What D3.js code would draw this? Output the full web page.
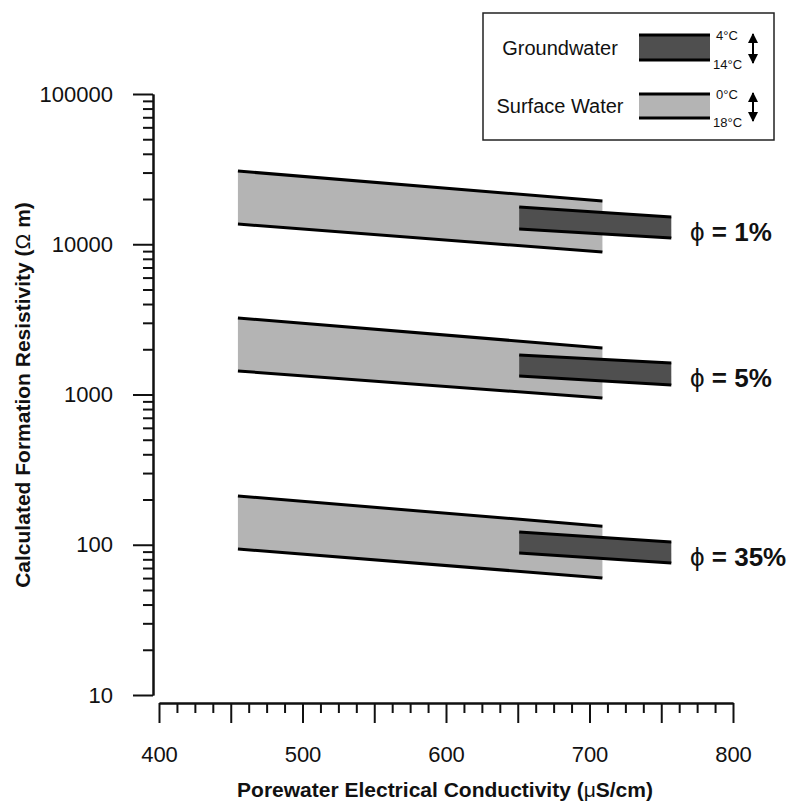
<!DOCTYPE html>
<html>
<head>
<meta charset="utf-8">
<script src="https://cdn.jsdelivr.net/npm/d3@7"></script>
<style>
  body { margin: 0; background: #fff; }
  svg { font-family: "Liberation Sans", Arial, sans-serif; }
  .axis path, .axis line { stroke: #111; stroke-width: 2; }
  .axis text { font-size: 22px; fill: #111; }
  .title { font-size: 21px; font-weight: bold; fill: #111; }
</style>
</head>
<body>
<svg width="792" height="803"></svg>
<script>
// porosity cases, one band pair each
var porosity = ['1%', '5%', '35%'];

// conductivity range of each water type (uS/cm)
var surfaceEC = [455, 709];
var groundEC = [651, 757];

// resistivity (ohm m) at the left / right end of each line
var surfaceTop = [[30700, 19400], [3230, 2040], [211, 133]];     // 0 C
var surfaceBottom = [[13640, 8880], [1434, 948], [93.7, 60.1]];  // 18 C
var groundTop = [[17700, 15180], [1832, 1621], [121.6, 104.3]];  // 4 C
var groundBottom = [[12630, 10990], [1327, 1157], [88.1, 75.6]]; // 14 C

var legendNames = ['Groundwater', 'Surface Water'];
var legendTemps = [['4°C', '14°C'], ['0°C', '18°C']];
var fills = ['#4f4f4f', '#b4b4b4'];

var yMajor = [10, 100, 1000, 10000, 100000];
var xLabels = [400, 500, 600, 700, 800];

var svg = d3.select('svg');

var x = d3.scaleLinear().domain([400, 800]).range([159, 733]);
var y = d3.scaleLog().domain([10, 100000]).range([695, 94]);

// ---- axes ----
var yMinor = [];
yMajor.slice(0, -1).forEach(function(d) {
    for (var k = 2; k <= 9; k++) yMinor.push(d * k);
});

svg.append('g')
    .attr('class', 'axis')
    .attr('transform', 'translate(153,0)')
    .call(d3.axisLeft(y).tickValues(yMinor).tickSize(10).tickSizeOuter(0).tickFormat(''));

svg.append('g')
    .attr('class', 'axis')
    .attr('transform', 'translate(153,0)')
    .call(d3.axisLeft(y).tickValues(yMajor).tickSize(20).tickSizeOuter(0)
        .tickPadding(20).tickFormat(d3.format('d')));

var xMinor = d3.range(400, 800.1, 12.5).filter(function(d) { return d % 50 !== 0; });
var xMajor = d3.range(400, 800.1, 50);

svg.append('g')
    .attr('class', 'axis')
    .attr('transform', 'translate(0,703)')
    .call(d3.axisBottom(x).tickValues(xMinor).tickSize(10).tickSizeOuter(0).tickFormat(''));

svg.append('g')
    .attr('class', 'axis')
    .attr('transform', 'translate(0,703)')
    .call(d3.axisBottom(x).tickValues(xMajor).tickSize(20).tickSizeOuter(0)
        .tickPadding(23).tickFormat(function(d) { return xLabels.indexOf(d) >= 0 ? d : ''; }));

var xt = svg.append('text')
    .attr('class', 'title')
    .attr('text-anchor', 'middle')
    .attr('transform', 'translate(445,797)');
xt.append('tspan').text('Porewater Electrical Conductivity (');
xt.append('tspan').attr('font-weight', 'normal').text('μ');
xt.append('tspan').text('S/cm)');

var yt = svg.append('text')
    .attr('class', 'title')
    .attr('text-anchor', 'middle')
    .attr('transform', 'translate(30,395) rotate(-90)');
yt.append('tspan').text('Calculated Formation Resistivity (');
yt.append('tspan').attr('font-weight', 'normal').text('Ω');
yt.append('tspan').text(' m)');

// ---- bands ----
var area = d3.area()
    .x(function(d) { return x(d.ec); })
    .y0(function(d) { return y(d.lo); })
    .y1(function(d) { return y(d.hi); });

var lineHi = d3.line().x(function(d) { return x(d.ec); }).y(function(d) { return y(d.hi); });
var lineLo = d3.line().x(function(d) { return x(d.ec); }).y(function(d) { return y(d.lo); });

var drawBand = function(ec, hi, lo, fill) {
    var pts = ec.map(function(e, i) { return { ec: e, hi: hi[i], lo: lo[i] }; });
    var g = svg.append('g');
    g.append('path').attr('d', area(pts)).attr('fill', fill);
    g.append('path').attr('d', lineHi(pts)).attr('fill', 'none').attr('stroke', '#000').attr('stroke-width', 3);
    g.append('path').attr('d', lineLo(pts)).attr('fill', 'none').attr('stroke', '#000').attr('stroke-width', 3);
};

porosity.forEach(function(p, i) {
    drawBand(surfaceEC, surfaceTop[i], surfaceBottom[i], fills[1]);
    drawBand(groundEC, groundTop[i], groundBottom[i], fills[0]);

    var yMid = (y(groundTop[i][1]) + y(groundBottom[i][1])) / 2;
    var t = svg.append('text')
        .attr('x', 690)
        .attr('y', yMid + 13)
        .attr('font-size', 26)
        .attr('fill', '#111');
    t.append('tspan').text('ϕ');
    t.append('tspan').attr('font-weight', 'bold').text(' = ' + p);
});

// ---- legend ----
var leg = svg.append('g');
leg.append('rect')
    .attr('x', 483).attr('y', 13).attr('width', 291).attr('height', 127)
    .attr('fill', '#fff').attr('stroke', '#222').attr('stroke-width', 1.5);

var defs = svg.append('defs');
defs.append('marker')
    .attr('id', 'head')
    .attr('viewBox', '0 0 10 10')
    .attr('refX', 9).attr('refY', 5)
    .attr('markerWidth', 5).attr('markerHeight', 5)
    .attr('markerUnits', 'strokeWidth')
    .attr('orient', 'auto-start-reverse')
    .append('path').attr('d', 'M0,0 L10,5 L0,10 Z').attr('fill', '#000');

var rowTop = [35, 94];
var rowBot = [60, 118];
legendNames.forEach(function(name, i) {
    var g = leg.append('g');
    g.append('text')
        .attr('x', 560).attr('y', (rowTop[i] + rowBot[i]) / 2 + 7)
        .attr('text-anchor', 'middle')
        .attr('font-size', 20)
        .attr('fill', '#111')
        .text(name);
    g.append('rect')
        .attr('x', 639).attr('y', rowTop[i])
        .attr('width', 71).attr('height', rowBot[i] - rowTop[i])
        .attr('fill', fills[i]);
    [rowTop[i], rowBot[i]].forEach(function(yy) {
        g.append('line')
            .attr('x1', 639).attr('x2', 710).attr('y1', yy).attr('y2', yy)
            .attr('stroke', '#000').attr('stroke-width', 3);
    });
    g.append('text')
        .attr('x', 716).attr('y', rowTop[i] + 5)
        .attr('font-size', 13).attr('fill', '#111')
        .text(legendTemps[i][0]);
    g.append('text')
        .attr('x', 713).attr('y', rowBot[i] + 9)
        .attr('font-size', 13).attr('fill', '#111')
        .text(legendTemps[i][1]);
    g.append('line')
        .attr('x1', 753).attr('x2', 753)
        .attr('y1', rowTop[i] - 1).attr('y2', rowBot[i] + 3)
        .attr('stroke', '#000').attr('stroke-width', 2)
        .attr('marker-start', 'url(#head)')
        .attr('marker-end', 'url(#head)');
});
</script>
</body>
</html>
